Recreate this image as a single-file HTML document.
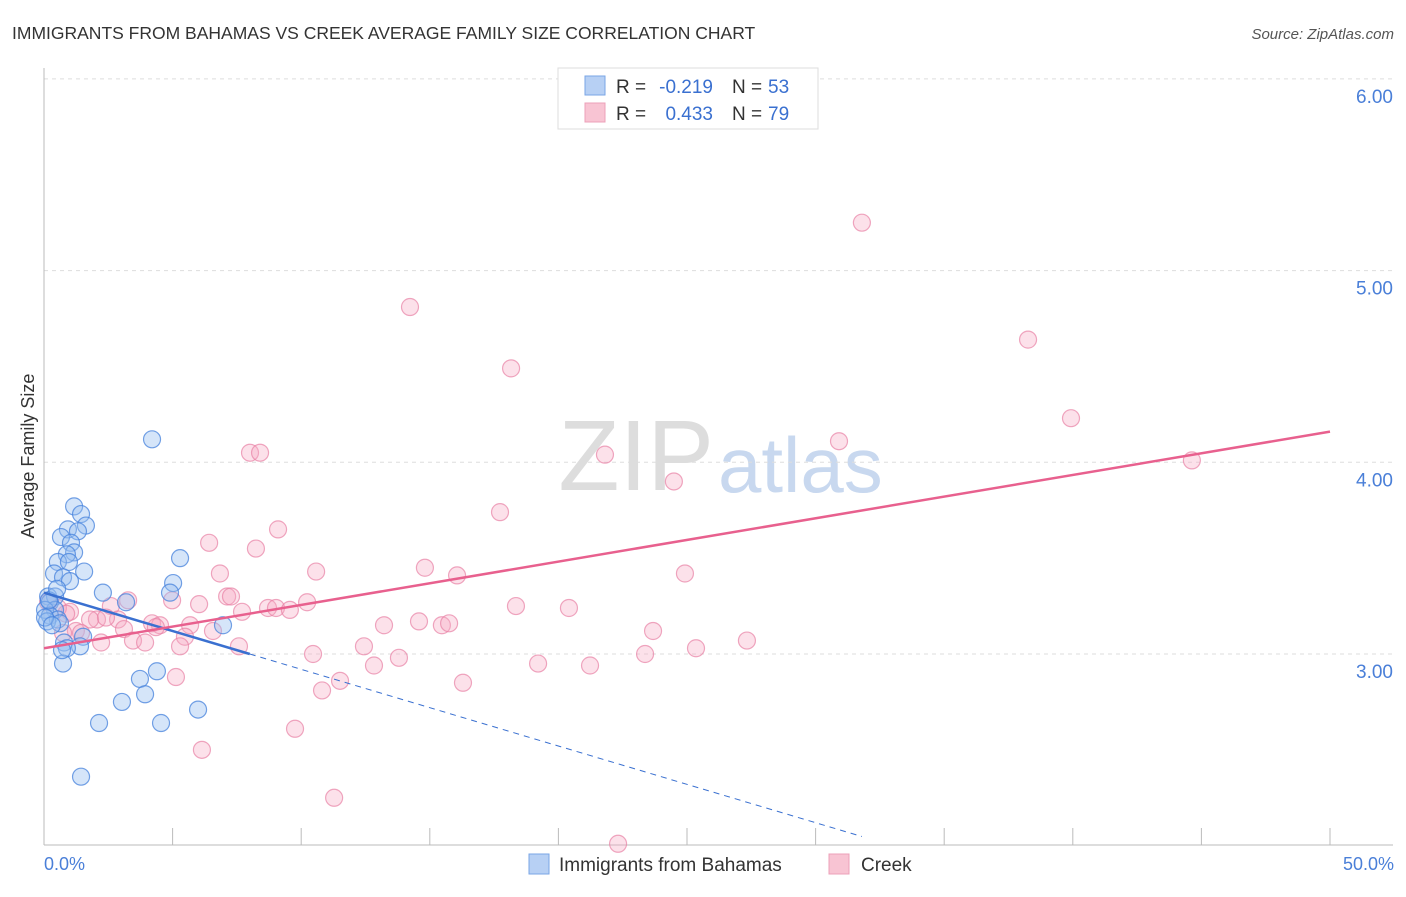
<!DOCTYPE html>
<html><head><meta charset="utf-8"><style>
body{margin:0;background:#fff;font-family:"Liberation Sans",sans-serif;}
svg text{font-family:"Liberation Sans",sans-serif;}
</style></head><body>
<svg id="c" width="1406" height="892" xmlns="http://www.w3.org/2000/svg">
<text x="12" y="39" font-size="17.5" fill="#333">IMMIGRANTS FROM BAHAMAS VS CREEK AVERAGE FAMILY SIZE CORRELATION CHART</text>
<text x="1394" y="39" font-size="15" fill="#555" font-style="italic" text-anchor="end">Source: ZipAtlas.com</text>
<text x="714" y="490" font-size="100" fill="#ddd" text-anchor="end" font-family="Liberation Serif">ZIP</text>
<text x="718" y="492" font-size="78" fill="#c8d8ef">atlas</text>
<g id="grid"></g><g id="pts"></g><g id="lines"></g>
<text transform="translate(34,456) rotate(-90)" font-size="18" fill="#333" text-anchor="middle">Average Family Size</text>
<text x="44" y="870" font-size="18" fill="#4a7fd8">0.0%</text>
<text x="1394" y="870" font-size="18" fill="#4a7fd8" text-anchor="end">50.0%</text>
<g>
<rect x="558" y="68" width="260" height="61" fill="#fff" stroke="#ddd"/>
<rect x="585" y="76" width="20" height="19" fill="#b7d0f4" stroke="#7aa6e6"/>
<rect x="585" y="103" width="20" height="19" fill="#f8c4d3" stroke="#eca0b8"/>
<text x="616" y="93" font-size="19" fill="#333">R =</text>
<text x="713" y="93" font-size="19" fill="#3a70d0" text-anchor="end">-0.219</text>
<text x="732" y="93" font-size="19" fill="#333">N =</text>
<text x="768" y="93" font-size="19" fill="#3a70d0">53</text>
<text x="616" y="120" font-size="19" fill="#333">R =</text>
<text x="713" y="120" font-size="19" fill="#3a70d0" text-anchor="end">0.433</text>
<text x="732" y="120" font-size="19" fill="#333">N =</text>
<text x="768" y="120" font-size="19" fill="#3a70d0">79</text>
</g>
<g>
<rect x="529" y="854" width="20" height="20" fill="#b7d0f4" stroke="#7aa6e6"/>
<text x="559" y="871" font-size="19" fill="#333">Immigrants from Bahamas</text>
<rect x="829" y="854" width="20" height="20" fill="#f8c4d3" stroke="#eca0b8"/>
<text x="861" y="871" font-size="19" fill="#333">Creek</text>
</g>
</svg>
<script>
const yTicks=[3,4,5,6];
const xTicks=[0,5,10,15,20,25,30,35,40,45,50];
const blueX=[4.2,1.17,1.44,1.63,0.93,1.32,0.66,1.05,1.17,0.89,0.54,0.97,1.56,0.39,0.74,1.01,5.29,5.02,2.29,0.16,0.43,0.23,3.19,4.9,0.43,0.04,0.23,0.54,0.12,0.62,6.96,1.52,0.78,1.40,0.89,0.74,4.39,3.73,3.93,3.03,2.14,4.55,5.99,1.44,0.04,0.31,0.19,0.51,0.70];
const blueY=[4.12,3.77,3.73,3.67,3.65,3.64,3.61,3.58,3.53,3.52,3.48,3.48,3.43,3.42,3.40,3.38,3.50,3.37,3.32,3.30,3.30,3.27,3.27,3.32,3.23,3.23,3.20,3.18,3.17,3.16,3.15,3.09,3.06,3.04,3.03,2.95,2.91,2.87,2.79,2.75,2.64,2.64,2.71,2.36,3.19,3.15,3.28,3.34,3.02];
const pinkX=[31.8,14.23,38.26,18.16,39.93,30.91,44.63,8.01,8.40,21.81,24.49,17.73,9.10,6.42,8.24,14.81,10.58,6.84,16.06,24.92,3.27,2.60,4.98,6.03,7.12,7.27,7.70,8.71,9.02,9.56,10.23,18.35,20.41,4.20,2.88,2.06,1.79,1.01,0.54,4.51,5.68,13.22,14.58,15.47,15.75,23.68,1.24,0.74,3.11,6.57,5.48,3.46,2.22,3.93,5.29,7.58,12.44,27.33,25.35,10.46,13.80,12.83,19.21,21.23,23.37,5.13,11.51,10.81,16.29,9.76,6.14,11.28,22.32,1.44,2.41,4.35,0.86,0.16];
const pinkY=[5.25,4.81,4.64,4.49,4.23,4.11,4.01,4.05,4.05,4.04,3.90,3.74,3.65,3.58,3.55,3.45,3.43,3.42,3.41,3.42,3.28,3.25,3.28,3.26,3.30,3.30,3.22,3.24,3.24,3.23,3.27,3.25,3.24,3.16,3.18,3.18,3.18,3.22,3.24,3.15,3.15,3.15,3.17,3.15,3.16,3.12,3.12,3.11,3.13,3.12,3.09,3.07,3.06,3.06,3.04,3.04,3.04,3.07,3.03,3.00,2.98,2.94,2.95,2.94,3.00,2.88,2.86,2.81,2.85,2.61,2.50,2.25,2.01,3.11,3.19,3.14,3.21,3.27];
const blueTrend=[3.32,-0.04];
const pinkTrend=[3.03,0.0226];
const X=v=>44+v*25.72, Y=v=>654-(v-3)*191.7;
const NS='http://www.w3.org/2000/svg';
function mk(tag,attrs,parent){const e=document.createElementNS(NS,tag);for(const k in attrs)e.setAttribute(k,attrs[k]);parent.appendChild(e);return e;}
const grid=document.getElementById('grid');
yTicks.forEach(t=>{
 const l=mk('line',{x1:44,x2:1393,y1:Y(t),y2:Y(t),stroke:'#ddd','stroke-dasharray':'4,4'},grid);
 
 
 const tx=mk('text',{x:1393,y:Y(t)+24,'font-size':19,fill:'#4a7fd8','text-anchor':'end'},grid);
 tx.textContent=t.toFixed(2);
 
 
});
mk('line',{x1:44,x2:44,y1:68,y2:845,stroke:'#bbb'},grid);
mk('line',{x1:44,x2:1393,y1:845,y2:845,stroke:'#bbb'},grid);
xTicks.forEach(t=>{
 const l=mk('line',{x1:X(t),x2:X(t),y1:828,y2:845,stroke:'#bbb'},grid);
 
 
});
const pts=document.getElementById('pts');
pinkX.forEach((x,i)=>{
 const c=mk('circle',{cx:X(x),cy:Y(pinkY[i]),r:8.5,fill:'rgba(245,170,195,0.35)',stroke:'rgba(232,130,165,0.7)','stroke-width':1.2},pts);
 
 
});
blueX.forEach((x,i)=>{
 const c=mk('circle',{cx:X(x),cy:Y(blueY[i]),r:8.5,fill:'rgba(150,190,240,0.4)',stroke:'rgba(70,130,220,0.75)','stroke-width':1.2},pts);
 
 
});
const lines=document.getElementById('lines');
const bt=x=>blueTrend[0]+blueTrend[1]*x, pt=x=>pinkTrend[0]+pinkTrend[1]*x;
let l1=mk('line',{x1:X(0),y1:Y(bt(0)),x2:X(8),y2:Y(bt(8)),stroke:'#3a70d0','stroke-width':2.5},lines);


let l2=mk('line',{x1:X(8),y1:Y(bt(8)),x2:X(31.8),y2:Y(bt(31.8)),stroke:'#3a70d0','stroke-width':1,'stroke-dasharray':'6,5'},lines);


let l3=mk('line',{x1:X(0),y1:Y(pt(0)),x2:X(50),y2:Y(pt(50)),stroke:'#e8608e','stroke-width':2.5},lines);


</script>
</body></html>
